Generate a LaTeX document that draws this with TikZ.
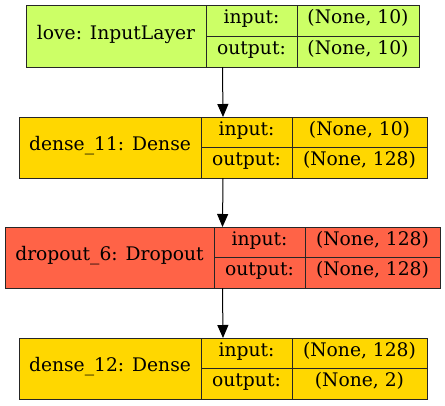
\documentclass[tikz,border=0pt]{standalone}
\usepackage{fontspec}
\setmainfont{DejaVu Serif}
\usetikzlibrary{arrows.meta}
\definecolor{ingreen}{RGB}{204,255,102}
\definecolor{gold}{RGB}{255,215,0}
\definecolor{tomato}{RGB}{255,99,71}
\tikzset{
  box/.style={draw=black!85, line width=1pt, inner sep=0pt, outer sep=0pt},
  cell/.style={draw=black!85, line width=1pt},
  txt/.style={inner sep=0pt, text height=0.8em, text depth=0.16em, font=\fontsize{18.7}{22}\selectfont},
  conn/.style={line width=1pt, -{Triangle[length=13pt,width=11pt]}}
}
\begin{document}
\begin{tikzpicture}[x=1pt,y=-1pt]
\fill[white] (0,0) rectangle (445,405);
\useasboundingbox (0,0) rectangle (445,405);
% Box 1
\node[box, fill=ingreen, minimum width=393pt, minimum height=62pt] (L1) at (222.5,36) {};
\draw[cell] (206,5) -- (206,67) (297,5) -- (297,67) (206,36) -- (419,36);
\node[txt] (L1n) at (116,36) {love: InputLayer};
\node[txt] (L1i) at (251.5,20.5) {input:};
\node[txt] (L1o) at (251.5,51.5) {output:};
\node[txt] (L1iv) at (358,20.5) {(None, 10)};
\node[txt] (L1ov) at (358,51.5) {(None, 10)};
% Box 2
\node[box, fill=gold, minimum width=408pt, minimum height=61pt] (L2) at (223,147.5) {};
\draw[cell] (201,117) -- (201,178) (292,117) -- (292,178) (201,147.5) -- (427,147.5);
\node[txt] (L2n) at (110,147.5) {dense\_11: Dense};
\node[txt] (L2i) at (246.5,132.25) {input:};
\node[txt] (L2o) at (246.5,162.75) {output:};
\node[txt] (L2iv) at (359.5,132.25) {(None, 10)};
\node[txt] (L2ov) at (359.5,162.75) {(None, 128)};
% Box 3
\node[box, fill=tomato, minimum width=435pt, minimum height=61pt] (L3) at (222.5,257.5) {};
\draw[cell] (214,227) -- (214,288) (305,227) -- (305,288) (214,257.5) -- (440,257.5);
\node[txt] (L3n) at (109.5,257.5) {dropout\_6: Dropout};
\node[txt] (L3i) at (259.5,242.25) {input:};
\node[txt] (L3o) at (259.5,272.75) {output:};
\node[txt] (L3iv) at (372.5,242.25) {(None, 128)};
\node[txt] (L3ov) at (372.5,272.75) {(None, 128)};
% Box 4
\node[box, fill=gold, minimum width=408pt, minimum height=61pt] (L4) at (223,368.5) {};
\draw[cell] (201,338) -- (201,399) (292,338) -- (292,399) (201,368.5) -- (427,368.5);
\node[txt] (L4n) at (110,368.5) {dense\_12: Dense};
\node[txt] (L4i) at (246.5,353.25) {input:};
\node[txt] (L4o) at (246.5,383.75) {output:};
\node[txt] (L4iv) at (359.5,353.25) {(None, 128)};
\node[txt] (L4ov) at (359.5,383.75) {(None, 2)};
% connectors
\draw[conn] (L1.south) -- (L2.north);
\draw[conn] (L2.south) -- (L3.north);
\draw[conn] (L3.south) -- (L4.north);
\end{tikzpicture}
\end{document}
